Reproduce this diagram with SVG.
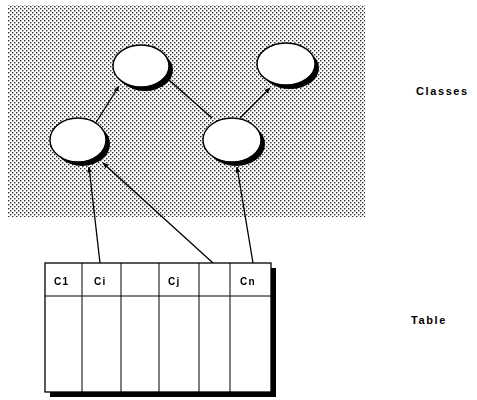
<svg xmlns="http://www.w3.org/2000/svg" width="477" height="400" viewBox="0 0 477 400">
  <defs>
    <!-- halftone dot screen for the class area -->
    <pattern id="dots" width="4" height="4" patternUnits="userSpaceOnUse">
      <rect x="0" y="0" width="1.4" height="1.4" fill="#2a2a2a"/>
      <rect x="2" y="2" width="1.4" height="1.4" fill="#2a2a2a"/>
    </pattern>
    <marker id="arrow" viewBox="0 0 10 10" refX="9" refY="5" markerWidth="6" markerHeight="6" orient="auto" markerUnits="userSpaceOnUse">
      <path d="M0,1 L10,5 L0,9 Z" fill="#000"/>
    </marker>
    <filter id="soft" x="-10%" y="-10%" width="120%" height="120%">
      <feGaussianBlur stdDeviation="0.4"/>
    </filter>
  </defs>
  <style>
    .shadow { fill: #000; }
    .cls { fill: #fff; stroke: #000; stroke-width: 1.4; }
    .edge { stroke: #000; stroke-width: 1.3; fill: none; }
    .grid { stroke: #000; stroke-width: 1; fill: none; }
    .col { font-family: "Liberation Sans", Arial, sans-serif; font-weight: bold; font-size: 10px; letter-spacing: 1.3px; fill: #000; }
    .tag { font-family: "Liberation Sans", Arial, sans-serif; font-weight: bold; font-size: 11px; letter-spacing: 1.6px; fill: #000; }
  </style>

  <rect width="477" height="400" fill="#fff"/>

  <!-- class area -->
  <rect id="class-area" x="8" y="5" width="357" height="212" fill="url(#dots)"/>

  <!-- connectors -->
  <g id="connectors" filter="url(#soft)">
    <line class="edge" x1="95" y1="124" x2="119" y2="86" marker-end="url(#arrow)"/>
    <line class="edge" x1="169" y1="80" x2="212" y2="118"/>
    <line class="edge" x1="240" y1="118" x2="270" y2="88" marker-end="url(#arrow)"/>
    <line class="edge" x1="100" y1="263" x2="89" y2="167" marker-end="url(#arrow)"/>
    <line class="edge" x1="213" y1="263" x2="103" y2="163" marker-end="url(#arrow)"/>
    <line class="edge" x1="253" y1="263" x2="237" y2="167" marker-end="url(#arrow)"/>
  </g>

  <!-- classes -->
  <g id="class-top-left" filter="url(#soft)">
    <ellipse class="shadow" cx="145" cy="70" rx="28" ry="21"/>
    <ellipse class="cls" cx="141" cy="66" rx="28" ry="21"/>
  </g>
  <g id="class-top-right" filter="url(#soft)">
    <ellipse class="shadow" cx="290" cy="68" rx="29" ry="21"/>
    <ellipse class="cls" cx="286" cy="64" rx="29" ry="21"/>
  </g>
  <g id="class-left" filter="url(#soft)">
    <ellipse class="shadow" cx="82" cy="144" rx="28" ry="22"/>
    <ellipse class="cls" cx="78" cy="140" rx="28" ry="22"/>
  </g>
  <g id="class-right" filter="url(#soft)">
    <ellipse class="shadow" cx="236" cy="144" rx="29" ry="22"/>
    <ellipse class="cls" cx="232" cy="140" rx="29" ry="22"/>
  </g>

  <!-- table -->
  <g id="table" filter="url(#soft)">
    <rect x="50" y="268" width="226" height="129" fill="#000"/>
    <rect x="45" y="263" width="226" height="129" fill="#fff" stroke="#000" stroke-width="1.3"/>
    <line class="grid" x1="45" y1="296" x2="271" y2="296"/>
    <line class="grid" x1="82" y1="263" x2="82" y2="392"/>
    <line class="grid" x1="121" y1="263" x2="121" y2="392"/>
    <line class="grid" x1="159" y1="263" x2="159" y2="392"/>
    <line class="grid" x1="199" y1="263" x2="199" y2="392"/>
    <line class="grid" x1="230" y1="263" x2="230" y2="392"/>
    <text class="col" x="54" y="285">C1</text>
    <text class="col" x="94" y="285">Ci</text>
    <text class="col" x="168" y="285">Cj</text>
    <text class="col" x="240" y="285">Cn</text>
  </g>

  <!-- side labels -->
  <g id="labels">
    <text class="tag" x="416" y="95">Classes</text>
    <text class="tag" x="411" y="324">Table</text>
  </g>
</svg>
